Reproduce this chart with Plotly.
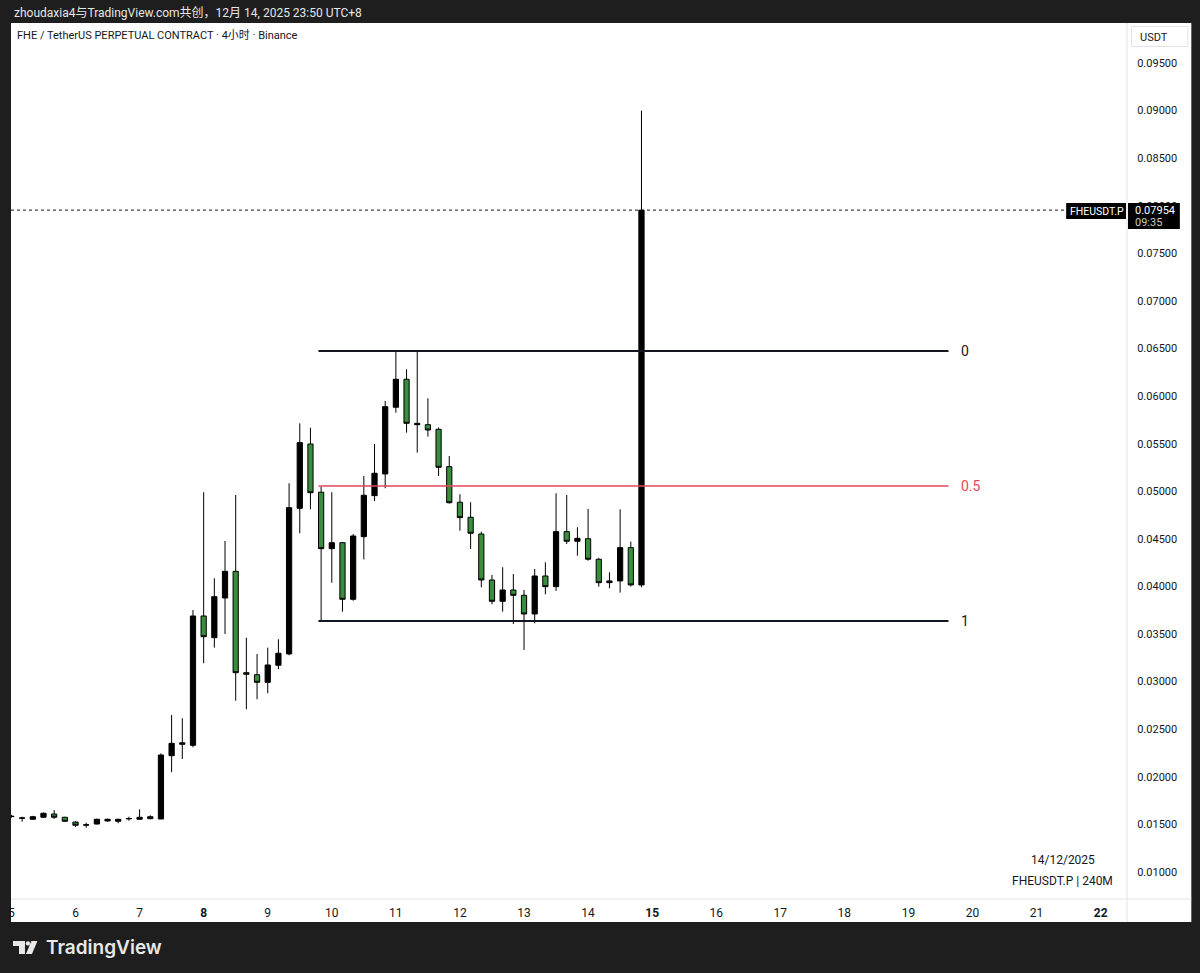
import pandas as pd
import plotly.graph_objects as go

# 4h candles, FHE/USDT perp, times in UTC+8
times = pd.date_range("2025-12-05 00:00", periods=60, freq="4h")
opens = [0.01582, 0.01565, 0.01554, 0.01575, 0.01609, 0.01575, 0.01525, 0.01492, 0.01504, 0.01536,
         0.01533, 0.01558, 0.01554, 0.01581, 0.01557, 0.02222, 0.02358, 0.02331, 0.03690, 0.03462,
         0.03879, 0.04159, 0.03094, 0.03073, 0.02993, 0.03172, 0.03291, 0.04821, 0.05497, 0.04990,
         0.04397, 0.04460, 0.03865, 0.04523, 0.04954, 0.05182, 0.05883, 0.06177, 0.05714, 0.05700,
         0.05651, 0.05259, 0.04885, 0.04727, 0.04551, 0.04068, 0.03844, 0.03963, 0.03907, 0.03711,
         0.04110, 0.03998, 0.04576, 0.04475, 0.04502, 0.04286, 0.04040, 0.04058, 0.04408, 0.04016]
highs = [0.01600, 0.01581, 0.01590, 0.01625, 0.01651, 0.01580, 0.01530, 0.01518, 0.01560, 0.01560,
         0.01558, 0.01581, 0.01659, 0.01596, 0.02247, 0.02650, 0.02615, 0.03753, 0.04990, 0.04086,
         0.04478, 0.04961, 0.03462, 0.03291, 0.03357, 0.03445, 0.05084, 0.05714, 0.05668, 0.05048,
         0.04990, 0.04467, 0.04551, 0.05161, 0.05497, 0.05949, 0.06467, 0.06282, 0.06467, 0.05977,
         0.05670, 0.05371, 0.04969, 0.04885, 0.04576, 0.04121, 0.04202, 0.04131, 0.03963, 0.04184,
         0.04254, 0.04979, 0.04961, 0.04622, 0.04814, 0.04300, 0.04149, 0.04811, 0.04471, 0.09000]
lows = [0.01570, 0.01528, 0.01550, 0.01570, 0.01557, 0.01528, 0.01473, 0.01465, 0.01500, 0.01530,
        0.01512, 0.01539, 0.01550, 0.01555, 0.01555, 0.02048, 0.02187, 0.02310, 0.03193, 0.03357,
        0.03500, 0.02800, 0.02710, 0.02815, 0.02878, 0.03130, 0.03277, 0.04559, 0.04811, 0.03635,
        0.04039, 0.03735, 0.03850, 0.04285, 0.04898, 0.05032, 0.05826, 0.05616, 0.05406, 0.05574,
        0.05161, 0.04870, 0.04586, 0.04394, 0.03991, 0.03813, 0.03735, 0.03606, 0.03333, 0.03613,
        0.03918, 0.03953, 0.04446, 0.04323, 0.04271, 0.03998, 0.03981, 0.03935, 0.04000, 0.03991]
closes = [0.01585, 0.01568, 0.01581, 0.01617, 0.01575, 0.01533, 0.01491, 0.01496, 0.01554, 0.01554,
          0.01554, 0.01562, 0.01575, 0.01560, 0.02229, 0.02352, 0.02342, 0.03690, 0.03472, 0.03893,
          0.04159, 0.03094, 0.03078, 0.02993, 0.03175, 0.03298, 0.04828, 0.05511, 0.04985, 0.04397,
          0.04460, 0.03865, 0.04530, 0.04958, 0.05189, 0.05889, 0.06177, 0.05714, 0.05700, 0.05644,
          0.05252, 0.04880, 0.04723, 0.04559, 0.04068, 0.03844, 0.03963, 0.03907, 0.03711, 0.04110,
          0.03998, 0.04576, 0.04475, 0.04506, 0.04286, 0.04040, 0.04058, 0.04408, 0.04016, 0.07954]

# fib retracement drawing
fib_high = 0.06475
fib_low = 0.03637
fib_levels = [0, 0.5, 1]
fib_labels = ["0", "0.5", "1"]
fib_colors = ["#131722", "#e5475b", "#131722"]
fib_start = "2025-12-09 19:00"
fib_end = "2025-12-19 15:00"
last_price = 0.07954

day_ticks = pd.date_range("2025-12-05", "2025-12-22", freq="D")
day_labels = ["5", "6", "7", "<b>8</b>", "9", "10", "11", "12", "13", "14",
              "<b>15</b>", "16", "17", "18", "19", "20", "21", "<b>22</b>"]
price_ticks = [0.010, 0.015, 0.020, 0.025, 0.030, 0.035, 0.040, 0.045, 0.050,
               0.055, 0.060, 0.065, 0.070, 0.075, 0.080, 0.085, 0.090, 0.095]

FONT = "Roboto, 'Noto Sans CJK SC', sans-serif"
INK = "#131722"
GREEN = "#388e3c"

# plot area in pixels
L, R, T, B = 8, 1127, 23, 899


def px(x):
    return (x - L) / (R - L)


def py(y):
    return (B - y) / (B - T)


fig = go.Figure(go.Candlestick(
    x=times, open=opens, high=highs, low=lows, close=closes,
    increasing=dict(line=dict(color="#000000", width=1), fillcolor="#000000"),
    decreasing=dict(line=dict(color="#000000", width=1), fillcolor=GREEN),
    hoverinfo="skip",
))

shapes = [
    # white chart panel incl. axes
    dict(type="rect", xref="paper", yref="paper", x0=0, x1=px(1191.5), y0=py(922), y1=1,
         fillcolor="white", line=dict(width=0), layer="below"),
    dict(type="line", xref="paper", yref="paper", x0=1, x1=1, y0=py(922), y1=1,
         line=dict(color="#e0e3eb", width=1)),
    dict(type="line", xref="paper", yref="paper", x0=0, x1=px(1191.5), y0=0, y1=0,
         line=dict(color="#e0e3eb", width=1)),
    # last price dotted line
    dict(type="line", xref="paper", yref="y", x0=0, x1=1, y0=last_price, y1=last_price,
         line=dict(color=INK, width=1, dash="dot")),
    # USDT box
    dict(type="rect", xref="paper", yref="paper", x0=px(1131.5), x1=px(1188), y0=py(46.5), y1=py(26.5),
         fillcolor="white", line=dict(color="#e0e3eb", width=1)),
    # price labels
    dict(type="rect", xref="paper", yref="paper", x0=px(1066), x1=px(1126), y0=py(219), y1=py(203),
         fillcolor="#000000", line=dict(width=0)),
    dict(type="rect", xref="paper", yref="paper", x0=px(1128), x1=px(1180), y0=py(229), y1=py(203),
         fillcolor="#000000", line=dict(width=0)),
    # TradingView logo
    dict(type="rect", xref="paper", yref="paper", x0=px(10), x1=px(22), y0=py(946), y1=py(941),
         fillcolor="#e8e8e8", line=dict(width=0)),
    dict(type="rect", xref="paper", yref="paper", x0=px(16), x1=px(22), y0=py(954), y1=py(941),
         fillcolor="#e8e8e8", line=dict(width=0)),
    dict(type="circle", xref="paper", yref="paper", x0=px(22.8), x1=px(27.2), y0=py(945.6), y1=py(941.2),
         fillcolor="#e8e8e8", line=dict(width=0)),
    dict(type="path", xref="paper", yref="paper",
         path=f"M {px(28.5)},{py(941)} L {px(34.5)},{py(941)} L {px(29)},{py(954)} L {px(23)},{py(954)} Z",
         fillcolor="#e8e8e8", line=dict(width=0)),
]

annotations = [
    dict(text="zhoudaxia4与TradingView.com共创，12月 14, 2025 23:50 UTC+8", x=px(9), y=py(13),
         font=dict(size=12, color="#e6e6e6")),
    dict(text="FHE / TetherUS PERPETUAL CONTRACT · 4小时 · Binance", x=px(12), y=py(36),
         font=dict(size=11, color=INK)),
    dict(text="USDT", x=px(1138), y=py(37), font=dict(size=11, color=INK)),
    dict(text="FHEUSDT.P", x=px(1068), y=py(211), font=dict(size=10.5, color="white")),
    dict(text="0.07954", x=px(1133), y=py(210), font=dict(size=11, color="white")),
    dict(text="09:35", x=px(1133), y=py(222.5), font=dict(size=11, color="#c8c8c8")),
    dict(text="14/12/2025", x=px(1063), y=py(860), xanchor="center", font=dict(size=12, color=INK)),
    dict(text="FHEUSDT.P | 240M", x=px(1062.5), y=py(880.5), xanchor="center", font=dict(size=12, color=INK)),
    dict(text="TradingView", x=px(41), y=py(947.5),
         font=dict(family="Inter", size=19, color="#e8e8e8", weight=600)),
]

for lvl, lab, col in zip(fib_levels, fib_labels, fib_colors):
    price = fib_high - lvl * (fib_high - fib_low)
    shapes.append(dict(type="line", xref="x", yref="y", x0=fib_start, x1=fib_end, y0=price, y1=price,
                       line=dict(color=col, width=2 if col == INK else 1.5)))
    annotations.append(dict(text=lab, x=px(959), y=price, yref="y", font=dict(size=14, color=col)))

for a in annotations:
    a.setdefault("xref", "paper")
    a.setdefault("yref", "paper")
    a.setdefault("xanchor", "left")
    a.setdefault("yanchor", "middle")
    a["showarrow"] = False

fig.update_layout(
    width=1200, height=973,
    margin=dict(l=L, r=1200 - R, t=T, b=973 - B),
    paper_bgcolor="#1e1e1e",
    plot_bgcolor="white",
    showlegend=False,
    font=dict(family=FONT, color=INK),
    shapes=shapes,
    annotations=annotations,
    xaxis=dict(
        type="date",
        range=["2025-12-04 23:50", "2025-12-22 09:52"],
        rangeslider=dict(visible=False),
        tickvals=day_ticks, ticktext=day_labels,
        ticks="outside", ticklen=3, tickcolor="rgba(0,0,0,0)",
        tickfont=dict(size=12, color=INK),
        showgrid=False, zeroline=False, showline=False,
    ),
    yaxis=dict(
        side="right",
        range=[0.007163, 0.0992],
        tickvals=price_ticks, tickformat=".5f",
        ticks="outside", ticklen=7, tickcolor="rgba(0,0,0,0)",
        tickfont=dict(size=11, color=INK),
        showgrid=False, zeroline=False, showline=False,
    ),
)

fig.write_html("out.html", config={"displayModeBar": False},
               post_script="document.body.style.margin='0';document.body.style.overflow='hidden';")
